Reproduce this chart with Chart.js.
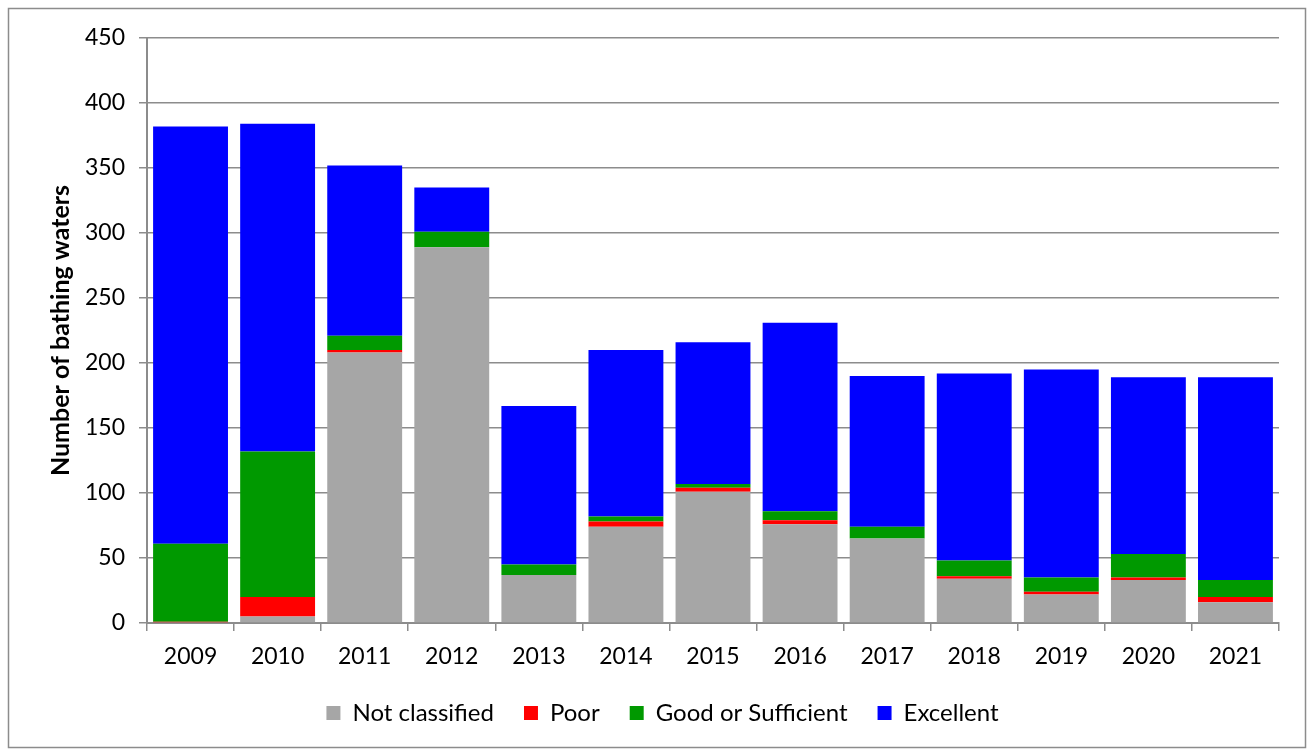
<!DOCTYPE html>
<html>
<head>
<meta charset="utf-8">
<script src="https://cdn.jsdelivr.net/npm/chart.js@4"></script>
<style>
  html, body { margin: 0; padding: 0; background: #fff; }
  #wrap { width: 1309px; height: 749px; }
</style>
</head>
<body>
<div id="wrap"><canvas id="bathingChart" width="1309" height="749"></canvas></div>
<script>
const years = ['2009', '2010', '2011', '2012', '2013', '2014', '2015', '2016', '2017', '2018', '2019', '2020', '2021'];
const notClassified = [0, 5, 208, 289, 37, 74, 101, 76, 65, 34, 22, 33, 16];
const poor = [1, 15, 2, 0, 0, 4, 3, 3, 0, 2, 2, 2, 4];
const goodOrSufficient = [60, 112, 11, 12, 8, 4, 3, 7, 9, 12, 11, 18, 13];
const excellent = [321, 252, 131, 34, 122, 128, 109, 145, 116, 144, 160, 136, 156];
const yTicks = [0, 50, 100, 150, 200, 250, 300, 350, 400, 450];

const FONT = 'Lato, "Open Sans", sans-serif';
const GRID = '#8c8c8c';

// grey frame round the whole chart
const framePlugin = {
    id: 'frame',
    beforeDraw(chart) {
        const ctx = chart.ctx;
        ctx.save();
        ctx.fillStyle = '#fff';
        ctx.fillRect(0, 0, chart.width, chart.height);
        ctx.strokeStyle = '#8c8c8c';
        ctx.lineWidth = 1.5;
        ctx.strokeRect(8.5, 8.5, 1297, 739);
        ctx.restore();
    }
};

function makeSet(label, data, colour) {
    return {
        label: label,
        data: data,
        backgroundColor: colour,
        borderWidth: 0,
        barPercentage: 0.86,
        categoryPercentage: 1.0
    };
}

document.addEventListener('DOMContentLoaded', function() {
    const ctx = document.getElementById('bathingChart').getContext('2d');
    new Chart(ctx, {
        type: 'bar',
        data: {
            labels: years,
            datasets: [
                makeSet('Not classified', notClassified, '#a6a6a6'),
                makeSet('Poor', poor, '#ff0000'),
                makeSet('Good or Sufficient', goodOrSufficient, '#009900'),
                makeSet('Excellent', excellent, '#0000ff')
            ]
        },
        options: {
            responsive: false,
            animation: false,
            layout: { padding: { left: 46, right: 30, top: 38, bottom: 14 } },
            plugins: {
                tooltip: { enabled: false },
                legend: {
                    position: 'bottom',
                    labels: {
                        color: '#000',
                        font: { family: FONT, size: 24 },
                        boxWidth: 14,
                        boxHeight: 14,
                        padding: 30
                    }
                }
            },
            scales: {
                x: {
                    stacked: true,
                    offset: true,
                    grid: {
                        display: true,
                        drawOnChartArea: false,
                        drawTicks: true,
                        tickLength: 8,
                        color: GRID,
                        lineWidth: 1.5
                    },
                    border: { color: GRID, width: 2 },
                    ticks: {
                        color: '#000',
                        font: { family: FONT, size: 23 },
                        padding: 12,
                        maxRotation: 0
                    },
                    afterFit: s => { s.height = 48; }
                },
                y: {
                    stacked: true,
                    min: 0,
                    max: 450,
                    afterBuildTicks: s => { s.ticks = yTicks.map(v => ({ value: v })); },
                    grid: {
                        color: GRID,
                        lineWidth: 1.5,
                        tickLength: 8
                    },
                    border: { color: GRID, width: 2 },
                    ticks: {
                        color: '#000',
                        font: { family: FONT, size: 23 },
                        padding: 14
                    },
                    title: {
                        display: true,
                        text: 'Number of bathing waters',
                        color: '#000',
                        font: { family: FONT, size: 25, weight: 'bold' },
                        padding: { top: 0, bottom: 6 }
                    },
                    afterFit: s => { s.width = 101; }
                }
            }
        },
        plugins: [framePlugin]
    });
});
</script>
</body>
</html>
